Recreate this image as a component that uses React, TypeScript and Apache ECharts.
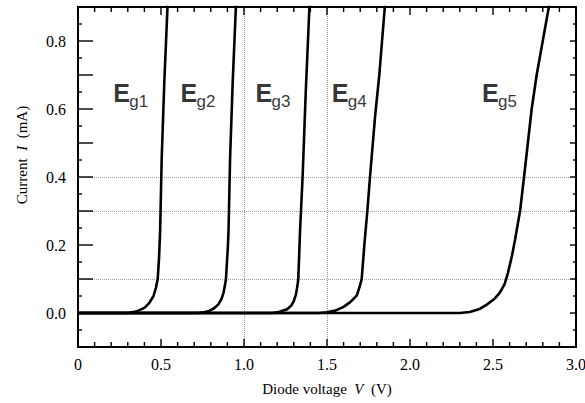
import React, { useEffect, useRef } from "react";
import * as echarts from "echarts";

// Diode I–V curves: [voltage (V), current (mA)]
const curveEg1: [number, number][] = [
  [0, 0], [0.3, 0], [0.35, 0.004], [0.4, 0.015], [0.43, 0.03], [0.455, 0.05],
  [0.47, 0.075], [0.48, 0.1], [0.488, 0.16], [0.495, 0.245], [0.504, 0.452],
  [0.52, 0.68], [0.54, 0.91],
];
const curveEg2: [number, number][] = [
  [0, 0], [0.72, 0], [0.76, 0.002], [0.79, 0.006], [0.82, 0.014], [0.847, 0.026],
  [0.865, 0.042], [0.877, 0.06], [0.891, 0.098], [0.903, 0.196], [0.907, 0.246],
  [0.916, 0.452], [0.932, 0.68], [0.952, 0.91],
];
const curveEg3: [number, number][] = [
  [0, 0], [1.17, 0], [1.21, 0.003], [1.26, 0.011], [1.285, 0.022], [1.3, 0.035],
  [1.313, 0.055], [1.322, 0.08], [1.327, 0.1], [1.338, 0.246], [1.353, 0.4],
  [1.372, 0.65], [1.395, 0.91],
];
const curveEg4: [number, number][] = [
  [0, 0], [1.45, 0], [1.5, 0.002], [1.55, 0.007], [1.6, 0.018], [1.64, 0.032],
  [1.68, 0.052], [1.698, 0.08], [1.709, 0.1], [1.725, 0.2], [1.743, 0.3],
  [1.759, 0.4], [1.79, 0.58], [1.815, 0.7], [1.85, 0.91],
];
const curveEg5: [number, number][] = [
  [0, 0], [2.3, 0], [2.36, 0.003], [2.42, 0.012], [2.46, 0.024], [2.51, 0.042],
  [2.54, 0.059], [2.57, 0.085], [2.59, 0.118], [2.615, 0.17], [2.633, 0.216],
  [2.663, 0.3], [2.687, 0.4], [2.733, 0.6], [2.763, 0.7], [2.84, 0.91],
];
const curves = [curveEg1, curveEg2, curveEg3, curveEg4, curveEg5];

// Tick labels
const xTickValues = [0, 0.5, 1.0, 1.5, 2.0, 2.5, 3.0];
const xTickLabels = ["0", "0.5", "1.0", "1.5", "2.0", "2.5", "3.0"];
const yTickValues = [0, 0.2, 0.4, 0.6, 0.8];
const yTickLabels = ["0.0", "0.2", "0.4", "0.6", "0.8"];

// Band-gap labels (subscript suffix and voltage of left edge)
const egSuffix = ["g1", "g2", "g3", "g4", "g5"];
const egLabelV = [0.213, 0.617, 1.07, 1.529, 2.434];
const egLabelI = 0.647;

// Faint dotted guide lines
const guideY = [0.1, 0.3, 0.4];
const guideX = [1.0, 1.5];

const X_MIN = 0, X_MAX = 3, X_STEP = 0.5, X_MINOR = 0.1;
const Y_MIN = -0.1, Y_MAX = 0.9, Y_STEP = 0.1, Y_MINOR = 0.05;

const SERIF = "Liberation Serif";
const SANS = "Liberation Sans";

// Tick positions (kind: 0 x-major, 1 x-minor, 2 y-major, 3 y-minor)
const tickData: [number, number][] = [];
for (let i = 0; i <= Math.round((X_MAX - X_MIN) / X_MINOR); i++) {
  const v = +(X_MIN + i * X_MINOR).toFixed(3);
  tickData.push([v, i % Math.round(X_STEP / X_MINOR) === 0 ? 0 : 1]);
}
for (let i = 0; i <= Math.round((Y_MAX - Y_MIN) / Y_MINOR); i++) {
  const v = +(Y_MIN + i * Y_MINOR).toFixed(3);
  tickData.push([v, i % Math.round(Y_STEP / Y_MINOR) === 0 ? 2 : 3]);
}

export default function App() {
  const ref = useRef<HTMLDivElement>(null);

  useEffect(() => {
    document.body.style.margin = "0";
    if (!ref.current) return;
    const chart = echarts.init(ref.current, undefined, { renderer: "svg" });

    const lineSeries = curves.map((c, i) => ({
      type: "line",
      data: c,
      showSymbol: false,
      symbol: "none",
      clip: true,
      lineStyle: { color: "#000", width: 2.6 },
      z: 3,
      ...(i === 0
        ? {
            markLine: {
              silent: true,
              symbol: "none",
              label: { show: false },
              lineStyle: { type: "dotted", color: "#999", width: 1 },
              data: [
                ...guideY.map((v) => ({ yAxis: v })),
                ...guideX.map((v) => ({ xAxis: v })),
              ],
              z: 1,
            },
          }
        : {}),
    }));

    const labelData = egLabelV.map((v, i) => ({ value: [v, egLabelI], name: egSuffix[i] }));
    const tickStyle = { stroke: "#000", lineWidth: 1.4 };

    const titleGraphic = {
      type: "text",
      x: 22,
      y: 155,
      rotation: Math.PI / 2,
      style: {
        text: "{a|Current  }{i|I}{a|  (mA)}",
        align: "center",
        verticalAlign: "middle",
        rich: {
          a: { fontFamily: SERIF, fontSize: 15, fill: "#000" },
          i: { fontFamily: SERIF, fontSize: 15, fontStyle: "italic", fill: "#000" },
        },
      },
    };

    chart.setOption({
      animation: false,
      grid: {
        left: 78, right: 9, top: 7, bottom: 56,
        show: true, borderColor: "#000", borderWidth: 2, backgroundColor: "transparent",
      },
      xAxis: {
        type: "value",
        min: X_MIN,
        max: X_MAX,
        interval: X_STEP,
        splitLine: { show: false },
        axisLine: { show: true, onZero: false, lineStyle: { color: "#000", width: 2 } },
        axisTick: { show: false },
        minorTick: { show: false },
        axisLabel: { show: false },
        name: "{a|Diode voltage  }{i|V}{a|  (V)}",
        nameLocation: "middle",
        nameGap: 34,
        nameTextStyle: {
          rich: {
            a: { fontFamily: SERIF, fontSize: 15, color: "#000" },
            i: { fontFamily: SERIF, fontSize: 15, fontStyle: "italic", color: "#000" },
          },
        },
      },
      yAxis: {
        type: "value",
        min: Y_MIN,
        max: Y_MAX,
        interval: Y_STEP,
        splitLine: { show: false },
        axisLine: { show: true, onZero: false, lineStyle: { color: "#000", width: 2 } },
        axisTick: { show: false },
        minorTick: { show: false },
        axisLabel: { show: false },
      },
      graphic: [titleGraphic],
      series: [
        ...lineSeries,
        {
          type: "custom",
          coordinateSystem: "cartesian2d",
          silent: true,
          z: 4,
          data: tickData,
          renderItem: (_params: any, api: any) => {
            const v = api.value(0);
            const kind = api.value(1);
            if (kind < 2) {
              const b = api.coord([v, Y_MIN]);
              const t = api.coord([v, Y_MAX]);
              const len = kind === 0 ? 8 : 5;
              return {
                type: "group",
                children: [
                  { type: "line", shape: { x1: b[0], y1: b[1], x2: b[0], y2: b[1] - len }, style: tickStyle },
                  { type: "line", shape: { x1: t[0], y1: t[1], x2: t[0], y2: t[1] + len }, style: tickStyle },
                ],
              };
            }
            const l = api.coord([X_MIN, v]);
            const r = api.coord([X_MAX, v]);
            const lenL = kind === 2 ? 15 : 4;
            const lenR = kind === 2 ? 6 : 3;
            return {
              type: "group",
              children: [
                { type: "line", shape: { x1: l[0], y1: l[1], x2: l[0] + lenL, y2: l[1] }, style: tickStyle },
                { type: "line", shape: { x1: r[0], y1: r[1], x2: r[0] - lenR, y2: r[1] }, style: tickStyle },
              ],
            };
          },
        },
        {
          type: "scatter",
          data: labelData,
          symbolSize: 0,
          silent: true,
          z: 5,
          label: {
            show: true,
            position: "right",
            distance: 0,
            formatter: "E",
            fontFamily: SANS,
            fontWeight: "bold",
            fontSize: 25,
            color: "#000",
          },
        },
        {
          type: "scatter",
          data: labelData,
          symbolSize: 0,
          silent: true,
          z: 5,
          label: {
            show: true,
            position: "right",
            distance: 0,
            offset: [16, 8],
            formatter: (p: any) => p.name,
            fontFamily: SANS,
            fontSize: 17,
            color: "#000",
          },
        },
      ],
    });

    // Tick labels placed through the chart's own scales
    const rich = { t: { fontFamily: SERIF, fontSize: 16, fill: "#000" } };
    const finder = { xAxisIndex: 0, yAxisIndex: 0 };
    const xLabelGraphics = xTickValues.map((v, i) => {
      const p = chart.convertToPixel(finder, [v, Y_MIN]) as number[];
      return {
        type: "text",
        x: p[0],
        y: p[1] + 9,
        silent: true,
        style: { text: "{t|" + xTickLabels[i] + "}", align: "center", verticalAlign: "top", rich },
      };
    });
    const yLabelGraphics = yTickValues.map((v, i) => {
      const p = chart.convertToPixel(finder, [X_MIN, v]) as number[];
      return {
        type: "text",
        x: p[0] - 12,
        y: p[1],
        silent: true,
        style: { text: "{t|" + yTickLabels[i] + "}", align: "right", verticalAlign: "middle", rich },
      };
    });
    chart.setOption({ graphic: [titleGraphic, ...xLabelGraphics, ...yLabelGraphics] });

    return () => chart.dispose();
  }, []);

  return <div ref={ref} style={{ width: 585, height: 403 }} />;
}
